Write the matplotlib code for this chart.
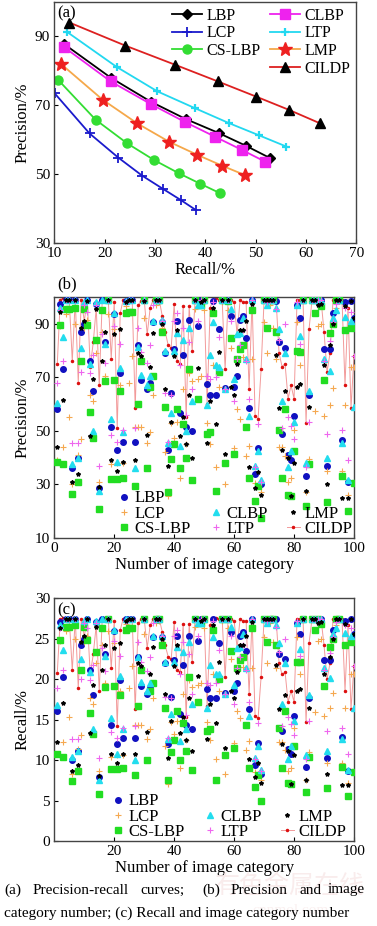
import matplotlib
matplotlib.use("Agg")
import matplotlib.pyplot as plt
from matplotlib.lines import Line2D

plt.rcParams["font.family"] = ["Liberation Serif", "DejaVu Serif"]

METHODS = ["LBP", "LCP", "CS-LBP", "CLBP", "LTP", "LMP", "CILDP"]

# (a) precision-recall curves
PR_RECALL = {
    "LBP": [11.9, 21.2, 29.2, 36.1, 42.7, 48.1, 52.8],
    "LCP": [10.1, 17.0, 22.7, 27.5, 31.6, 35.1, 38.2],
    "CS-LBP": [10.8, 18.2, 24.5, 29.8, 34.8, 39.0, 43.0],
    "CLBP": [11.9, 21.2, 29.2, 36.0, 42.0, 47.3, 51.9],
    "LTP": [12.6, 22.4, 30.5, 38.0, 44.7, 50.6, 56.1],
    "LMP": [11.3, 19.6, 26.5, 32.8, 38.4, 43.4, 47.9],
    "CILDP": [13.0, 24.1, 33.9, 42.5, 50.1, 56.7, 62.7],
}
PR_PRECISION = {
    "LBP": [87.8, 78.0, 71.0, 66.0, 61.9, 58.2, 54.7],
    "LCP": [73.4, 61.8, 54.8, 49.5, 45.7, 42.5, 39.5],
    "CS-LBP": [77.3, 65.8, 58.9, 54.1, 50.2, 47.2, 44.4],
    "CLBP": [86.9, 76.9, 70.3, 65.1, 60.8, 57.0, 53.6],
    "LTP": [91.2, 81.1, 74.0, 69.1, 64.8, 61.3, 58.0],
    "LMP": [82.0, 71.6, 64.7, 59.4, 55.6, 52.4, 49.7],
    "CILDP": [94.0, 87.3, 81.8, 76.9, 72.5, 68.6, 64.8],
}

# (b) precision per image category
CATEGORIES = list(range(1, 101))
PRECISION = {
    "LBP": [58, 97.5, 73, 99, 99, 36, 99, 40, 87, 90,
            99, 76, 65, 97.5, 28.5, 99, 83, 99, 51.5, 93.5,
            43, 71.5, 46, 98.5, 99, 99, 46, 82, 69, 99,
            65.5, 68, 90.5, 99, 99, 90.5, 79, 43, 64, 80.5,
            91, 56.5, 78.5, 51.5, 91.5, 50, 99, 89, 99, 99,
            67.5, 63.5, 98.5, 63.5, 88, 99, 66, 99, 93, 66.5,
            70.5, 91.5, 93, 84.5, 58.5, 99, 34, 43.5, 30, 99,
            99, 99, 99, 98.5, 83, 49, 81, 41, 39, 55.5,
            97, 92, 99, 33, 63.5, 99, 99, 99, 99, 80.5,
            37, 80.5, 94, 99, 99, 46.5, 98, 31, 98.5, 92],
    "LCP": [39, 89, 44, 93.5, 55, 30, 90, 41, 47, 88.5,
            91.5, 63.5, 61, 79, 31, 87, 70.5, 93.5, 37.5, 88,
            38, 67, 38, 96.5, 68, 78, 51.5, 51.5, 51.5, 92,
            45.5, 49.5, 63.5, 97, 98, 88.5, 42, 25.5, 53, 47.5,
            53.5, 32.5, 65.5, 45, 71.5, 68.5, 95.5, 69.5, 70.5, 95,
            53, 45, 74.5, 36.5, 66.5, 98, 30, 95, 81, 43.5,
            58, 54.5, 77.5, 40.5, 44.5, 77, 30.5, 30, 27, 90.5,
            79, 97, 88.5, 77, 44, 44, 40.5, 31, 32.5, 50.5,
            90.5, 74.5, 99, 27, 39.5, 99, 57.5, 89, 90, 55.5,
            35, 59.5, 66, 96, 98.5, 35, 59.5, 26, 74, 74],
    "CS-LBP": [38.5, 89.5, 37.5, 95.5, 95.5, 26.5, 96, 31, 76, 95.5,
               89.5, 57, 47.5, 84, 21, 95, 68.5, 99, 32, 69,
               32, 65, 32.5, 94, 94.5, 94.5, 29.5, 60, 76, 99,
               36, 66.5, 70.5, 99, 99, 87, 59, 27, 39.5, 45,
               58, 36, 52.5, 40, 73, 31.5, 99, 62, 97, 99,
               49, 49.5, 94, 27.5, 72, 99, 38, 98.5, 84.5, 41.5,
               77, 80.5, 82, 51.5, 32.5, 95, 24, 29.5, 17.5, 99,
               88.5, 99, 99, 87, 50.5, 32.5, 58, 26, 25.5, 42.5,
               80, 79.5, 99, 22, 37.5, 99, 94, 99, 96.5, 69,
               23.5, 86.5, 90, 99, 99, 33, 87.5, 20, 88.5, 30.5],
    "CLBP": [60.5, 96, 85, 99, 99, 37.5, 99, 40, 81, 98,
             99, 75, 50, 98, 27.5, 99, 82.5, 99, 54.5, 94,
             38.5, 73.5, 49.5, 98.5, 99, 99, 36, 81.5, 71, 99,
             67, 70.5, 91, 99, 99, 91.5, 80, 45.5, 56.5, 80,
             86.5, 44.5, 84, 50, 88.5, 61, 99, 97, 97, 99,
             59.5, 78.5, 90.5, 74.5, 74, 99, 65.5, 99, 95.5, 69.5,
             86, 86.5, 92, 77, 55.5, 99, 37, 42.5, 31.5, 99,
             97, 99, 99, 96, 88, 61, 79, 36.5, 42.5, 53.5,
             97, 85.5, 99, 38, 65, 99, 99, 99, 98.5, 77,
             40, 72.5, 92, 95, 99, 45.5, 92.5, 31.5, 91, 59],
    "LTP": [68, 95, 76, 99, 99, 45.5, 99, 45.5, 72, 97,
            94.5, 71.5, 78.5, 97, 37, 86, 75.5, 99, 48.5, 89,
            46, 82.5, 50.5, 98, 99, 99, 51, 88.5, 79.5, 99,
            75.5, 82, 97, 99, 99, 91, 64, 46, 63.5, 91,
            94, 74.5, 88.5, 56, 83, 65.5, 99, 91, 99, 99,
            70.5, 69.5, 98, 70, 85, 99, 65.5, 99, 91, 61,
            77, 82, 87.5, 76, 62, 99, 36.5, 52.5, 31, 99,
            98, 99, 99, 95.5, 84, 51, 90, 55, 52, 47,
            98, 82.5, 99, 36.5, 53.5, 99, 99, 99, 99, 76,
            49, 83.5, 90.5, 97.5, 99, 50.5, 96, 39, 94.5, 78],
    "LMP": [44, 94.5, 61.5, 99, 99, 31, 99, 34, 88.5, 91,
            98.5, 48, 69.5, 95.5, 29, 76, 87, 99, 39, 86,
            35, 88, 38.5, 98, 99, 99, 39, 79, 78, 98.5,
            48.5, 74, 86.5, 99, 99, 90, 65.5, 37, 53.5, 78,
            87.5, 48, 55, 45, 63.5, 40, 99, 73.5, 98, 99,
            45.5, 61, 96, 52.5, 79.5, 99, 41.5, 99, 66.5, 63.5,
            75, 87.5, 87.5, 91, 36.5, 97.5, 28.5, 34.5, 26, 99,
            99, 99, 99, 78.5, 58.5, 43, 65, 40, 25.5, 38,
            66.5, 67.5, 99, 27.5, 59, 99, 99, 97, 97.5, 74.5,
            30, 82, 90, 99, 99, 25, 96.5, 25, 98.5, 92],
    "CILDP": [75, 99, 99.5, 99.5, 99, 76, 99, 68, 99, 91,
              99, 74, 83, 96, 67, 99, 99, 99, 77, 98,
              51, 94, 99, 99, 99, 99, 58.5, 97, 98.5, 99,
              86, 96, 99, 99, 99, 93, 87, 82, 81, 97.5,
              76, 75, 96.5, 55, 96.5, 80, 99, 99, 99, 99,
              60, 96, 99, 99.5, 99, 99, 73, 99, 99, 98,
              86, 99, 98, 98, 65.5, 99, 55.5, 54.5, 73, 99,
              99, 99, 99, 99, 79, 74, 75, 62, 67, 62,
              99, 99, 99, 53, 88, 99, 99, 99, 99, 87,
              72, 79, 99, 99, 99, 99, 67, 96, 58.5, 78],
}

# (c) recall per image category
RECALL = {
    "LBP": [16.1, 27.1, 20.3, 27.5, 27.5, 10.0, 27.5, 11.1, 24.2, 25.0,
            27.5, 21.1, 18.1, 27.1, 7.9, 27.5, 23.1, 27.5, 14.3, 26.0,
            12.0, 19.9, 12.8, 27.4, 27.5, 27.5, 12.8, 22.8, 19.2, 27.5,
            18.2, 18.9, 25.2, 27.5, 27.5, 25.2, 22.0, 12.0, 17.8, 22.4,
            25.3, 15.7, 21.8, 14.3, 25.4, 13.9, 27.5, 24.7, 27.5, 27.5,
            18.8, 17.7, 27.4, 17.7, 24.5, 27.5, 18.3, 27.5, 25.9, 18.5,
            19.6, 25.4, 25.9, 23.5, 16.3, 27.5, 9.4, 12.1, 8.3, 27.5,
            27.5, 27.5, 27.5, 27.4, 23.1, 13.6, 22.5, 11.4, 10.8, 15.4,
            27.0, 25.6, 27.5, 9.2, 17.7, 27.5, 27.5, 27.5, 27.5, 22.4,
            10.3, 22.4, 26.1, 27.5, 27.5, 12.9, 27.2, 8.6, 27.4, 25.6],
    "LCP": [10.8, 24.7, 12.2, 26.0, 15.3, 8.3, 25.0, 11.4, 13.1, 24.6,
            25.4, 17.7, 17.0, 22.0, 8.6, 24.2, 19.6, 26.0, 10.4, 24.5,
            10.6, 18.6, 10.6, 26.8, 18.9, 21.7, 14.3, 14.3, 14.3, 25.6,
            12.6, 13.8, 17.7, 27.0, 27.2, 24.6, 11.7, 7.1, 14.7, 13.2,
            14.9, 9.0, 18.2, 12.5, 19.9, 19.0, 26.5, 19.3, 19.6, 26.4,
            14.7, 12.5, 20.7, 10.1, 18.5, 27.2, 8.3, 26.4, 22.5, 12.1,
            16.1, 15.2, 21.5, 11.3, 12.4, 21.4, 8.5, 8.3, 7.5, 25.2,
            22.0, 27.0, 24.6, 21.4, 12.2, 12.2, 11.3, 8.6, 9.0, 14.0,
            25.2, 20.7, 27.5, 7.5, 11.0, 27.5, 16.0, 24.7, 25.0, 15.4,
            9.7, 16.5, 18.3, 26.7, 27.4, 9.7, 16.5, 7.2, 20.6, 20.6],
    "CS-LBP": [10.7, 24.9, 10.4, 26.5, 26.5, 7.4, 26.7, 8.6, 21.1, 26.5,
               24.9, 15.8, 13.2, 23.4, 5.8, 26.4, 19.0, 27.5, 8.9, 19.2,
               8.9, 18.1, 9.0, 26.1, 26.3, 26.3, 8.2, 16.7, 21.1, 27.5,
               10.0, 18.5, 19.6, 27.5, 27.5, 24.2, 16.4, 7.5, 11.0, 12.5,
               16.1, 10.0, 14.6, 11.1, 20.3, 8.8, 27.5, 17.2, 27.0, 27.5,
               13.6, 13.8, 26.1, 7.6, 20.0, 27.5, 10.6, 27.4, 23.5, 11.5,
               21.4, 22.4, 22.8, 14.3, 9.0, 26.4, 6.7, 8.2, 4.9, 27.5,
               24.6, 27.5, 27.5, 24.2, 14.0, 9.0, 16.1, 7.2, 7.1, 11.8,
               22.2, 22.1, 27.5, 6.1, 10.4, 27.5, 26.1, 27.5, 26.8, 19.2,
               6.5, 24.0, 25.0, 27.5, 27.5, 9.2, 24.3, 5.6, 24.6, 8.5],
    "CLBP": [16.8, 26.7, 23.6, 27.5, 27.5, 10.4, 27.5, 11.1, 22.5, 27.2,
             27.5, 20.9, 13.9, 27.2, 7.6, 27.5, 22.9, 27.5, 15.2, 26.1,
             10.7, 20.4, 13.8, 27.4, 27.5, 27.5, 10.0, 22.7, 19.7, 27.5,
             18.6, 19.6, 25.3, 27.5, 27.5, 25.4, 22.2, 12.6, 15.7, 22.2,
             24.0, 12.4, 23.4, 13.9, 24.6, 17.0, 27.5, 27.0, 27.0, 27.5,
             16.5, 21.8, 25.2, 20.7, 20.6, 27.5, 18.2, 27.5, 26.5, 19.3,
             23.9, 24.0, 25.6, 21.4, 15.4, 27.5, 10.3, 11.8, 8.8, 27.5,
             27.0, 27.5, 27.5, 26.7, 24.5, 17.0, 22.0, 10.1, 11.8, 14.9,
             27.0, 23.8, 27.5, 10.6, 18.1, 27.5, 27.5, 27.5, 27.4, 21.4,
             11.1, 20.2, 25.6, 26.4, 27.5, 12.6, 25.7, 8.8, 25.3, 16.4],
    "LTP": [18.9, 26.4, 21.1, 27.5, 27.5, 12.6, 27.5, 12.6, 20.0, 27.0,
            26.3, 19.9, 21.8, 27.0, 10.3, 23.9, 21.0, 27.5, 13.5, 24.7,
            12.8, 22.9, 14.0, 27.2, 27.5, 27.5, 14.2, 24.6, 22.1, 27.5,
            21.0, 22.8, 27.0, 27.5, 27.5, 25.3, 17.8, 12.8, 17.7, 25.3,
            26.1, 20.7, 24.6, 15.6, 23.1, 18.2, 27.5, 25.3, 27.5, 27.5,
            19.6, 19.3, 27.2, 19.5, 23.6, 27.5, 18.2, 27.5, 25.3, 17.0,
            21.4, 22.8, 24.3, 21.1, 17.2, 27.5, 10.1, 14.6, 8.6, 27.5,
            27.2, 27.5, 27.5, 26.5, 23.4, 14.2, 25.0, 15.3, 14.5, 13.1,
            27.2, 22.9, 27.5, 10.1, 14.9, 27.5, 27.5, 27.5, 27.5, 21.1,
            13.6, 23.2, 25.2, 27.1, 27.5, 14.0, 26.7, 10.8, 26.3, 21.7],
    "LMP": [12.2, 26.3, 17.1, 27.5, 27.5, 8.6, 27.5, 9.4, 24.6, 25.3,
            27.4, 13.3, 19.3, 26.5, 8.1, 21.1, 24.2, 27.5, 10.8, 23.9,
            9.7, 24.5, 10.7, 27.2, 27.5, 27.5, 10.8, 22.0, 21.7, 27.4,
            13.5, 20.6, 24.0, 27.5, 27.5, 25.0, 18.2, 10.3, 14.9, 21.7,
            24.3, 13.3, 15.3, 12.5, 17.7, 11.1, 27.5, 20.4, 27.2, 27.5,
            12.6, 17.0, 26.7, 14.6, 22.1, 27.5, 11.5, 27.5, 18.5, 17.7,
            20.9, 24.3, 24.3, 25.3, 10.1, 27.1, 7.9, 9.6, 7.2, 27.5,
            27.5, 27.5, 27.5, 21.8, 16.3, 12.0, 18.1, 11.1, 7.1, 10.6,
            18.5, 18.8, 27.5, 7.6, 16.4, 27.5, 27.5, 27.0, 27.1, 20.7,
            8.3, 22.8, 25.0, 27.5, 27.5, 6.9, 26.8, 6.9, 27.4, 25.6],
    "CILDP": [20.8, 27.5, 27.6, 27.6, 27.5, 21.1, 27.5, 18.9, 27.5, 25.3,
              27.5, 20.6, 23.1, 26.7, 18.6, 27.5, 27.5, 27.5, 21.4, 27.2,
              14.2, 26.1, 27.5, 27.5, 27.5, 27.5, 16.3, 27.0, 27.4, 27.5,
              23.9, 26.7, 27.5, 27.5, 27.5, 25.9, 24.2, 22.8, 22.5, 27.1,
              21.1, 20.9, 26.8, 15.3, 26.8, 22.2, 27.5, 27.5, 27.5, 27.5,
              16.7, 26.7, 27.5, 27.6, 27.5, 27.5, 20.3, 27.5, 27.5, 27.2,
              23.9, 27.5, 27.2, 27.2, 18.2, 27.5, 15.4, 15.2, 20.3, 27.5,
              27.5, 27.5, 27.5, 27.5, 22.0, 20.6, 20.9, 17.2, 18.6, 17.2,
              27.5, 27.5, 27.5, 14.7, 24.5, 27.5, 27.5, 27.5, 27.5, 24.2,
              20.0, 22.0, 27.5, 27.5, 27.5, 27.5, 18.6, 26.7, 16.3, 21.7],
}

CAPTION_WORDS = ["(a)", "Precision-recall", "curves;", "(b)", "Precision", "and", "image"]
CAPTION_LINE2 = "category number; (c) Recall and image category number"

# line styles for panel (a)
CURVE_STYLE = {
    "LBP": dict(color="black", marker="D", ms=5, mfc="black", mec="black"),
    "LCP": dict(color="#1a1acc", marker="+", ms=7, mew=1.3),
    "CS-LBP": dict(color="#33dd33", marker="o", ms=6.5, mfc="#33dd33", mec="#33dd33"),
    "CLBP": dict(color="#ee22ee", marker="s", ms=6.5, mfc="#ee22ee", mec="#ee22ee"),
    "LTP": dict(color="#22d8f0", marker="+", ms=6, mew=1.6),
    "LMP": dict(color="#f5a84a", marker="*", ms=10, mfc="#ee2020", mec="#ee2020"),
    "CILDP": dict(color="#dd2020", marker="^", ms=7.5, mfc="black", mec="black"),
}

# marker styles for panels (b) and (c)
SCATTER_STYLE = {
    "LBP": dict(ls="none", marker="o", ms=4, color="#1010c0"),
    "LCP": dict(ls="none", marker="+", ms=4, mew=0.8, color="#f5a850"),
    "CS-LBP": dict(ls="none", marker="s", ms=3.8, color="#22dd22"),
    "CLBP": dict(ls="none", marker="^", ms=4, color="#22ddee"),
    "LTP": dict(ls="none", marker="+", ms=4.5, mew=0.8, color="#ee66ee"),
    "LMP": dict(ls="none", marker="*", ms=3, color="black"),
    "CILDP": dict(ls="-", lw=0.7, color="#f29a9a", marker=".", ms=3,
                  mfc="#dd1010", mec="#dd1010"),
}


def style_axes(ax):
    for spine in ax.spines.values():
        spine.set_linewidth(1.0)
        spine.set_color("#444444")
    ax.tick_params(direction="in", length=3, width=0.8, labelsize=11, pad=3)


def blank():
    return Line2D([], [], ls="none", marker=None, label="")


def scatter_panel(ax, values, ylim, yticks, xticks, legend_anchor):
    for name in ["CILDP"] + METHODS[:-1]:
        zo = 2 if name == "CILDP" else 3
        ax.plot(CATEGORIES, values[name], zorder=zo, **SCATTER_STYLE[name])
    ax.set_xlim(0, 100)
    ax.set_ylim(*ylim)
    ax.set_yticks(yticks)
    ax.set_xticks(xticks)
    ax.set_xlabel("Number of image category", fontsize=12, labelpad=1)
    style_axes(ax)
    h = {m: Line2D([], [], label=m, **SCATTER_STYLE[m]) for m in METHODS}
    handles = [h["LBP"], h["LCP"], h["CS-LBP"], blank(), h["CLBP"], h["LTP"],
               blank(), h["LMP"], h["CILDP"]]
    ax.legend(handles=handles, labels=[x.get_label() for x in handles], ncol=3,
              loc="lower left", bbox_to_anchor=legend_anchor, frameon=False,
              fontsize=12, handlelength=0.8, handletextpad=0.25,
              columnspacing=1.1, labelspacing=-0.05, borderpad=0, borderaxespad=0)


fig = plt.figure(figsize=(3.77, 9.26), dpi=100)

# (a)
ax_a = fig.add_axes([0.144, 0.7376, 0.801, 0.2604])
for name in METHODS:
    ax_a.plot(PR_RECALL[name], PR_PRECISION[name], lw=1.3, label=name, **CURVE_STYLE[name])
ax_a.set_xlim(10, 70)
ax_a.set_ylim(30, 100)
ax_a.set_xticks(range(10, 71, 10))
ax_a.set_yticks([30, 50, 70, 90])
ax_a.set_xlabel("Recall/%", fontsize=12, labelpad=1)
ax_a.set_ylabel("Precision/%", fontsize=12, labelpad=3)
style_axes(ax_a)
ax_a.text(0.01, 0.985, "(a)", transform=ax_a.transAxes, fontsize=12, va="top", ha="left")
lines_a = {ln.get_label(): ln for ln in ax_a.get_lines()}
handles_a = [lines_a["LBP"], lines_a["LCP"], lines_a["CS-LBP"], blank(),
             lines_a["CLBP"], lines_a["LTP"], lines_a["LMP"], lines_a["CILDP"]]
ax_a.legend(handles=handles_a, labels=[x.get_label() for x in handles_a], ncol=2,
            loc="upper left", bbox_to_anchor=(0.39, 0.975), frameon=False, fontsize=11.5,
            handlelength=1.9, handletextpad=0.25, columnspacing=0.6,
            labelspacing=0.1, borderpad=0, borderaxespad=0)

# (b)
ax_b = fig.add_axes([0.144, 0.4190, 0.795, 0.2603])
scatter_panel(ax_b, PRECISION, (10, 100), [10, 30, 50, 70, 90], range(0, 101, 20), (0.21, 0.005))
ax_b.set_ylabel("Precision/%", fontsize=12, labelpad=3)
fig.text(57 / 377, 1 - 284 / 926, "(b)", fontsize=12, ha="left", va="center")

# (c)
ax_c = fig.add_axes([0.144, 0.0918, 0.795, 0.2619])
scatter_panel(ax_c, RECALL, (0, 30), range(0, 31, 5), range(20, 101, 20), (0.19, 0.005))
ax_c.set_ylabel("Recall/%", fontsize=12, labelpad=3)
ax_c.text(0.01, 0.985, "(c)", transform=ax_c.transAxes, fontsize=12, va="top", ha="left")

# caption and faint watermark
fig.text(0.77, 1 - 886 / 926, "有色金属在线", fontsize=18, color="#f9ecec",
         ha="center", va="center", family=["Noto Sans CJK SC", "DejaVu Sans"], zorder=0)
fig.text(0.77, 1 - 911 / 926, "cnnmol.com", fontsize=11, color="#faf0f0",
         ha="center", va="center", zorder=0)
word_x = [4, 33, 140, 202, 231, 300, 328]
for wx, word in zip(word_x, CAPTION_WORDS):
    fig.text(wx / 377, 1 - 890 / 926, word, fontsize=11, ha="left", va="center")
fig.text(4 / 377, 1 - 913 / 926, CAPTION_LINE2, fontsize=11, ha="left", va="center")

fig.savefig("out.png", dpi=100)
